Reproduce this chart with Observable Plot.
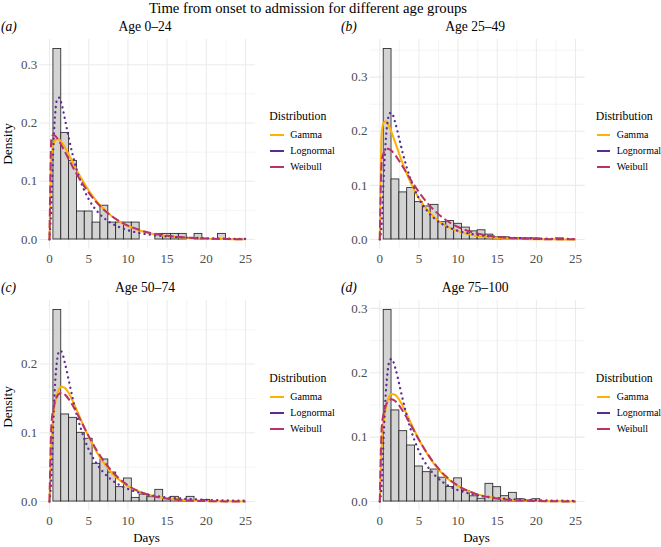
<!DOCTYPE html>
<html><head><meta charset="utf-8">
<script src="https://cdn.jsdelivr.net/npm/d3@7"></script>
<script src="https://cdn.jsdelivr.net/npm/@observablehq/plot@0.6"></script>
<style>
html,body{margin:0;padding:0;background:#fff;}
#chart{position:relative;width:661px;height:547px;color:#000;overflow:hidden;background:#fff;}
#chart, #chart *, #chart svg text{font-family:"Liberation Serif","Times New Roman",serif !important;}
.t{position:absolute;line-height:1;white-space:nowrap;}
.p{position:absolute;}
</style></head><body><div id="chart"></div>
<script>
// ---------- data ----------
const chartTitle = "Time from onset to admission for different age groups";
const panelTitles = ["Age 0–24", "Age 25–49", "Age 50–74", "Age 75–100"];
const panelTags = ["(a)", "(b)", "(c)", "(d)"];
const distributions = ["Gamma", "Lognormal", "Weibull"];
const distColors = ["#FFB000", "#5B2C8F", "#B9326A"];
const xTicks = [0, 5, 10, 15, 20, 25];
const xMinor = [2.5, 7.5, 12.5, 17.5, 22.5];

// histogram bins (1-day wide, centred on whole days)
const binDays = [1,2,3,4,5,6,7,8,9,10,11,12,13,14,15,16,17,18,19,20,21,22,23,24,25];
const densA = [0.327,0.183,0.135,0.048,0.048,0.029,0.058,0.029,0.029,0.029,0.029,0,0,0.0096,0.0096,0.0096,0.0096,0,0.0096,0,0,0.0096];
const densB = [0.352,0.111,0.087,0.095,0.069,0.061,0.064,0.032,0.034,0.029,0.022,0.015,0.017,0.009,0.004,0.004,0.002,0.002,0.002,0.002,0,0,0.002];
const densC = [0.2786,0.1267,0.1218,0.100,0.0913,0.0549,0.0612,0.0422,0.0209,0.0335,0.0053,0.0102,0.0063,0.017,0.004,0.0068,0.0024,0.0068,0,0.0024];
const densD = [0.2974,0.1415,0.1093,0.087,0.0544,0.0456,0.0497,0.0370,0.0225,0.0360,0.0165,0.0081,0.0043,0.0275,0.0223,0.0083,0.0135,0.0036,0.0015,0.0036];

// fitted density curves, read at these days
const curveDays = [0,0.25,0.5,0.75,1,1.25,1.5,2,2.5,3,3.5,4,5,6,7,8,9,10,12,14,16,18,20,22.5,25];
const gammaA   = [0,0.1426,0.1628,0.1705,0.1725,0.1711,0.1677,0.1574,0.1448,0.1316,0.1187,0.1063,0.0842,0.0659,0.0512,0.0394,0.0303,0.0231,0.0134,0.0077,0.0044,0.0025,0.0014,0.0007,0.0003];
const lognormA = [0,0.0628,0.1632,0.2198,0.2418,0.2436,0.2347,0.2045,0.1719,0.1429,0.1185,0.0986,0.0692,0.0496,0.0363,0.0271,0.0206,0.0159,0.0098,0.0064,0.0043,0.0029,0.0021,0.0014,0.0010];
const weibullA = [0,0.1756,0.1795,0.1778,0.1737,0.1684,0.1624,0.1496,0.1365,0.1237,0.1116,0.1003,0.0803,0.0638,0.0502,0.0394,0.0307,0.0239,0.0142,0.0084,0.0049,0.0028,0.0016,0.0008,0.0004];
const gammaB   = [0,0.1988,0.2161,0.2186,0.2147,0.2074,0.1984,0.1781,0.1573,0.1375,0.1194,0.1031,0.0761,0.0555,0.0403,0.0290,0.0209,0.0150,0.0076,0.0039,0.0019,0.0010,0.0005,0.0002,0.0001];
const lognormB = [0,0.0306,0.1138,0.1804,0.2180,0.2331,0.2341,0.2146,0.1853,0.1560,0.1305,0.1087,0.0758,0.0536,0.0386,0.0283,0.0211,0.0159,0.0095,0.0059,0.0038,0.0025,0.0017,0.0011,0.0007];
const weibullB = [0,0.1450,0.1600,0.1659,0.1675,0.1665,0.1638,0.1554,0.1447,0.1330,0.1210,0.1093,0.0876,0.0688,0.0533,0.0407,0.0308,0.0231,0.0127,0.0068,0.0035,0.0018,0.0009,0.0004,0.0002];
const gammaC   = [0,0.0905,0.1251,0.1454,0.1576,0.1642,0.1670,0.1650,0.1567,0.1453,0.1325,0.1193,0.0942,0.0726,0.0550,0.0411,0.0305,0.0225,0.0120,0.0063,0.0032,0.0017,0.0008,0.0004,0.0002];
const lognormC = [0,0.0378,0.1194,0.1777,0.2081,0.2192,0.2185,0.1999,0.1738,0.1481,0.1252,0.1058,0.0759,0.0553,0.0410,0.0309,0.0236,0.0183,0.0114,0.0074,0.0050,0.0034,0.0024,0.0016,0.0011];
const weibullC = [0,0.1134,0.1352,0.1469,0.1536,0.1569,0.1579,0.1552,0.1483,0.1391,0.1285,0.1174,0.0952,0.0750,0.0578,0.0436,0.0323,0.0236,0.0121,0.0059,0.0028,0.0013,0.0006,0.0002,0.0001];
const gammaD   = [0,0.0890,0.1240,0.1447,0.1572,0.1641,0.1670,0.1655,0.1578,0.1468,0.1343,0.1213,0.0965,0.0750,0.0573,0.0432,0.0323,0.0240,0.0130,0.0069,0.0036,0.0019,0.0010,0.0004,0.0002];
const lognormD = [0,0.0272,0.1027,0.1651,0.2020,0.2186,0.2217,0.2068,0.1814,0.1550,0.1310,0.1103,0.0784,0.0564,0.0412,0.0306,0.0231,0.0176,0.0107,0.0068,0.0044,0.0030,0.0021,0.0014,0.0009];
const weibullD = [0,0.1150,0.1370,0.1485,0.1550,0.1580,0.1588,0.1558,0.1487,0.1395,0.1290,0.1180,0.0960,0.0760,0.0588,0.0446,0.0333,0.0245,0.0128,0.0064,0.0031,0.0015,0.0007,0.0003,0.0001];

// ---------- layout ----------
const FONT = '"Liberation Serif","Times New Roman",serif';
const chart = document.getElementById("chart");
function addText(s, x, baseline, fs, opt = {}) {
  const d = document.createElement("div");
  d.className = "t";
  d.textContent = s;
  d.style.fontSize = fs + "px";
  d.style.top = (baseline - 0.8375 * fs) + "px";
  d.style.left = x + "px";
  d.style.color = opt.color || "#000";
  if (opt.italic) d.style.fontStyle = "italic";
  if (opt.anchor !== "start") d.style.transform = "translateX(-50%)";
  chart.appendChild(d);
  return d;
}

const panels = [
  {dens: densA, curves: [gammaA, lognormA, weibullA], left: 0,   top: 30,  mt: 9, mb: 21.5, ml: 39.2, yTicks: [0,0.1,0.2,0.3], yMinor: [0.05,0.15,0.25]},
  {dens: densB, curves: [gammaB, lognormB, weibullB], left: 330, top: 30,  mt: 9, mb: 21.5, ml: 39.5, yTicks: [0,0.1,0.2,0.3], yMinor: [0.05,0.15,0.25,0.35]},
  {dens: densC, curves: [gammaC, lognormC, weibullC], left: 0,   top: 292, mt: 8, mb: 21.4, ml: 39.2, yTicks: [0,0.1,0.2], yMinor: [0.05,0.15,0.25]},
  {dens: densD, curves: [gammaD, lognormD, weibullD], left: 330, top: 292, mt: 8, mb: 21.4, ml: 39.5, yTicks: [0,0.1,0.2,0.3], yMinor: [0.05,0.15,0.25]}
];

const dashes = [null, "0.1,5.2", "8,3.5"];
const widths = [2, 2.3, 2];

panels.forEach((p, pi) => {
  const bars = p.dens.map((v, i) => ({x1: binDays[i] - 0.5, x2: binDays[i] + 0.5, y: v}));
  const maxV = d3.max([...p.dens, ...p.curves.flat()]);
  const yDomain = [-0.05 * maxV, 1.05 * maxV];
  const lines = p.curves.map((arr, k) =>
    Plot.line(curveDays.map((x, i) => ({x, y: arr[i]})), {
      x: "x", y: "y", stroke: distColors[k], strokeWidth: widths[k],
      strokeDasharray: dashes[k], strokeLinecap: k === 1 ? "round" : "butt",
      curve: "monotone-x"
    })
  );
  const grid = "#EBEBEB";
  const svg = Plot.plot({
    width: 260, height: 240,
    marginLeft: p.ml, marginRight: 5.2, marginTop: p.mt, marginBottom: p.mb,
    style: {fontFamily: FONT, fontSize: "13px", color: "#4D4D4D", background: "transparent", overflow: "visible"},
    x: {domain: [-1.25, 26.25]},
    y: {domain: yDomain},
    marks: [
      Plot.gridX(xMinor, {stroke: grid, strokeOpacity: 1, strokeWidth: 0.55}),
      Plot.gridY(p.yMinor, {stroke: grid, strokeOpacity: 1, strokeWidth: 0.55}),
      Plot.gridX(xTicks, {stroke: grid, strokeOpacity: 1, strokeWidth: 1.07}),
      Plot.gridY(p.yTicks, {stroke: grid, strokeOpacity: 1, strokeWidth: 1.07}),
      Plot.rect(bars, {x1: "x1", x2: "x2", y1: 0, y2: "y", fill: "#D3D3D3", stroke: "#262626", strokeWidth: 0.85}),
      ...lines,
      Plot.axisX(xTicks, {tickSize: 0, tickPadding: 4.5, label: null, fontFamily: FONT}),
      Plot.axisY(p.yTicks, {tickSize: 0, tickPadding: 2.5, label: null, fontFamily: FONT, tickFormat: d => d.toFixed(1)})
    ]
  });
  svg.setAttribute("font-family", FONT);
  const wrap = document.createElement("div");
  wrap.className = "p";
  wrap.style.left = p.left + "px";
  wrap.style.top = p.top + "px";
  wrap.appendChild(svg);
  chart.appendChild(wrap);

  // strip title + tag
  const frameCenter = p.left + p.ml + (260 - p.ml - 5.2) / 2;
  const stripBase = p.top === 30 ? 31 : 292;
  addText(panelTitles[pi], frameCenter - 2, stripBase, 13.6);
  addText(panelTags[pi], p.left + (pi % 2 ? 11 : 1), stripBase, 13.6, {anchor: "start", italic: true});

  // legend
  const L = pi % 2 ? 595.7 : 269.3;
  const titleBase = p.top === 30 ? 120.8 : 383.1;
  addText("Distribution", L, titleBase, 11.8, {anchor: "start"});
  const firstBase = p.top === 30 ? 138.3 : 400.1;
  distributions.forEach((name, k) => {
    const b = firstBase + k * 15.9;
    const key = document.createElement("div");
    key.style.position = "absolute";
    key.style.left = (L + 1) + "px";
    key.style.top = (b - 3.4 - 1) + "px";
    key.style.width = "13.5px";
    key.style.height = "2px";
    key.style.background = distColors[k];
    chart.appendChild(key);
    addText(name, L + 21, b, 10, {anchor: "start"});
  });
});

// overall title and axis titles
addText(chartTitle, 308, 13.2, 14.7);
[144, 406.7].forEach(cy => {
  const d = document.createElement("div");
  d.className = "t";
  d.textContent = "Density";
  d.style.fontSize = "13.4px";
  d.style.left = "7.6px";
  d.style.top = cy + "px";
  d.style.transform = "translate(-50%,-50%) rotate(-90deg)";
  chart.appendChild(d);
});
addText("Days", 146.5, 542, 13);
addText("Days", 476.5, 542, 13);
</script></body></html>
